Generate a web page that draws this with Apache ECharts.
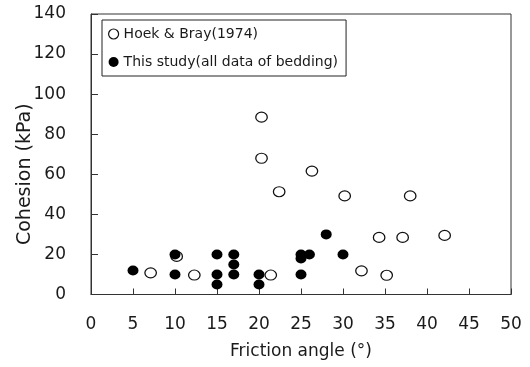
<!DOCTYPE html>
<html>
<head>
<meta charset="utf-8">
<script src="https://cdn.jsdelivr.net/npm/echarts@6/dist/echarts.min.js"></script>
<style>html,body{margin:0;padding:0;background:#fff}#c{width:530px;height:367px}</style>
</head>
<body>
<div id="c"></div>
<script>
const seriesNames = ['Hoek & Bray(1974)', 'This study(all data of bedding)'];
const hoekBray = [
  [20.3, 88.5], [20.3, 68], [26.3, 61.6], [22.4, 51.3], [30.2, 49.2], [38.0, 49.2],
  [34.3, 28.5], [37.1, 28.5], [42.1, 29.5], [32.2, 11.8], [35.2, 9.6], [21.4, 9.7],
  [12.3, 9.7], [7.1, 10.8], [10.2, 19]
];
const thisStudy = [
  [5, 12], [10, 20], [10, 10], [15, 20], [15, 10], [15, 5], [17, 20], [17, 15], [17, 10],
  [20, 10], [20, 5], [25, 20], [25, 18], [25, 10], [26, 20], [28, 30], [30, 20]
];
const xAxisTitle = 'Friction angle (°)';
const yAxisTitle = 'Cohesion (kPa)';

const FONT = 'DejaVu Sans';
const TXT = '#1a1a1a';
const LINE = '#333';

const chart = echarts.init(document.getElementById('c'), null, {renderer: 'canvas'});
chart.setOption({
  animation: false,
  backgroundColor: '#fff',
  grid: {left: 91, right: 19, top: 14, bottom: 72.5, containLabel: false, outerBoundsMode: 'none',
    show: true, borderColor: LINE, borderWidth: 1, backgroundColor: 'transparent'},
  legend: {
    orient: 'vertical', left: 102, top: 20,
    padding: [6, 8, 6, 6], itemGap: 12, itemWidth: 10, itemHeight: 10, itemTextGap: 5,
    borderColor: '#222', borderWidth: 1, borderRadius: 0,
    textStyle: {fontFamily: FONT, fontSize: 14, color: TXT, lineHeight: 16},
    data: [
      {name: seriesNames[0], icon: 'circle', itemStyle: {color: '#fff', borderColor: '#111', borderWidth: 1.2}},
      {name: seriesNames[1], icon: 'circle', itemStyle: {color: '#000', borderWidth: 0}}
    ]
  },
  xAxis: {
    type: 'value', min: 0, max: 50, interval: 5,
    name: xAxisTitle, nameLocation: 'middle', nameGap: 49, nameMoveOverlap: false,
    nameTextStyle: {fontFamily: FONT, fontSize: 17, color: TXT},
    axisLine: {show: true, onZero: false, lineStyle: {color: LINE, width: 1}},
    axisTick: {show: true, inside: true, length: 6, lineStyle: {color: LINE}},
    axisLabel: {fontFamily: FONT, fontSize: 17, color: TXT, margin: 22},
    splitLine: {show: false}
  },
  yAxis: {
    type: 'value', min: 0, max: 140, interval: 20,
    name: yAxisTitle, nameLocation: 'middle', nameGap: 56, nameRotate: 90, nameMoveOverlap: false,
    nameTextStyle: {fontFamily: FONT, fontSize: 19, color: TXT, padding: [0, 40, 0, 0]},
    axisLine: {show: true, onZero: false, lineStyle: {color: LINE, width: 1}},
    axisTick: {show: true, inside: true, length: 7, lineStyle: {color: LINE}},
    axisLabel: {fontFamily: FONT, fontSize: 17, color: TXT, margin: 25},
    splitLine: {show: false}
  },
  series: [
    {
      name: seriesNames[0], type: 'scatter', data: hoekBray,
      symbol: 'circle', symbolSize: [11.5, 10],
      itemStyle: {color: '#fff', borderColor: '#111', borderWidth: 1.2, opacity: 1}
    },
    {
      name: seriesNames[1], type: 'scatter', data: thisStudy,
      symbol: 'circle', symbolSize: [11, 10],
      itemStyle: {color: '#000', opacity: 1}
    }
  ]
});
</script>
</body>
</html>
